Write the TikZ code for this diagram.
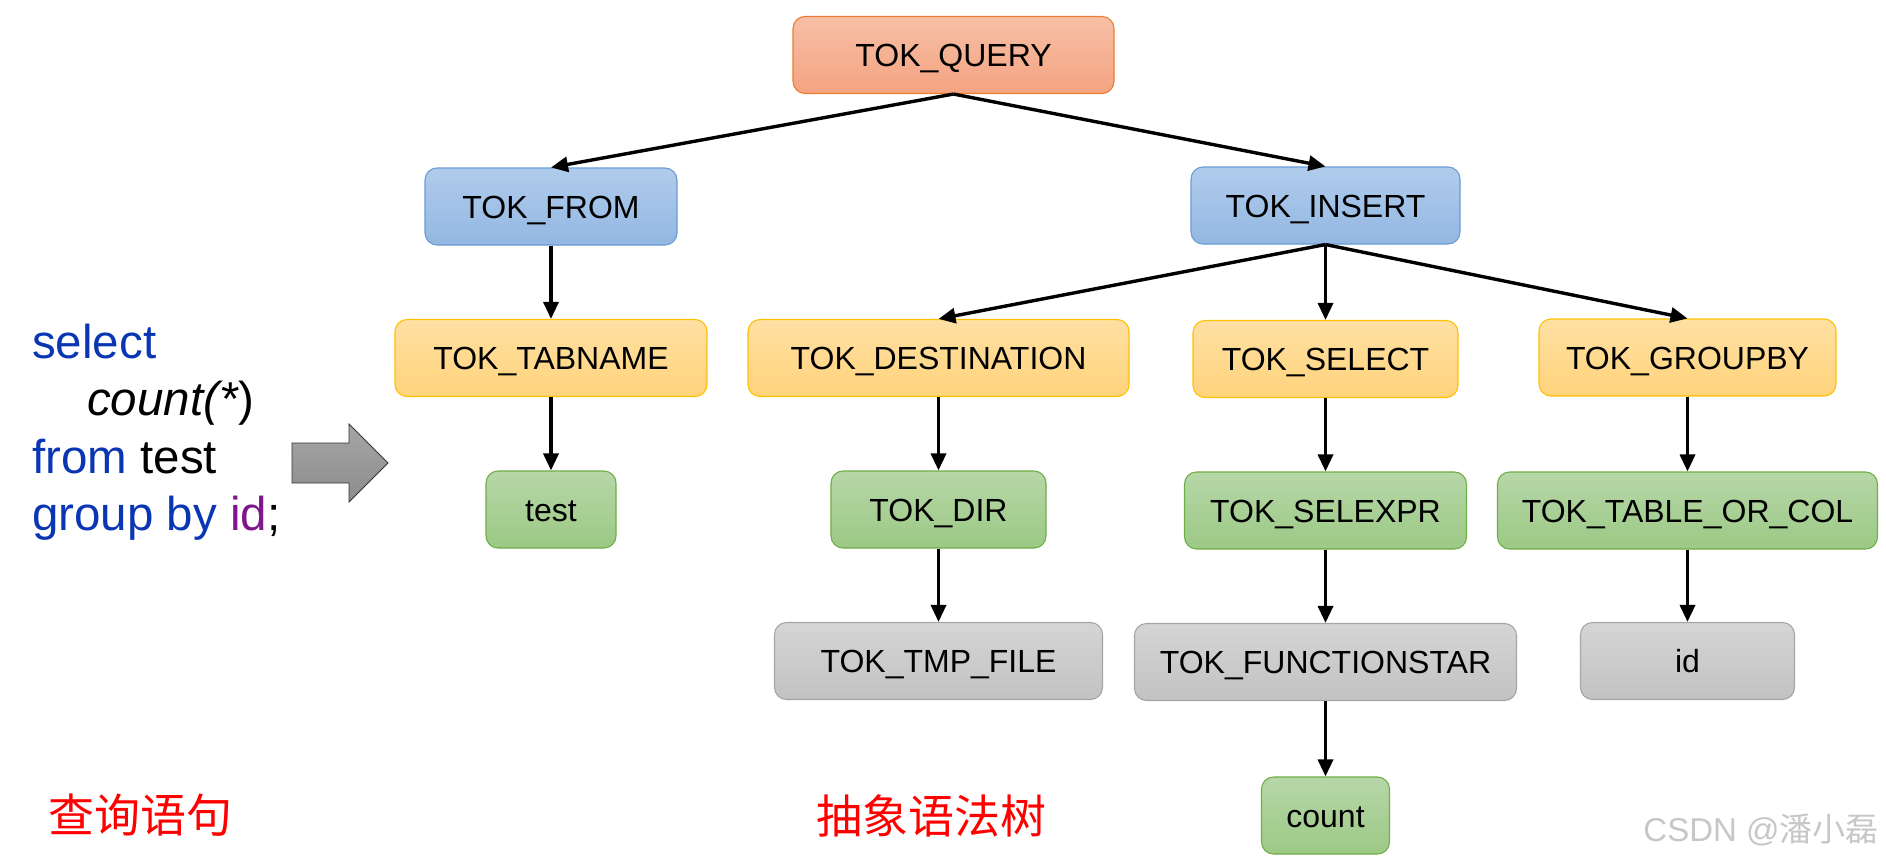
\documentclass[tikz,border=0pt]{standalone}
\usepackage{fontspec}
\setmainfont{Liberation Sans}
\newfontfamily\cjk{Noto Sans CJK SC}
\usetikzlibrary{arrows.meta}
\definecolor{qTop}{HTML}{F7BFA6}
\definecolor{qBot}{HTML}{F4A381}
\definecolor{qLine}{HTML}{ED7D31}
\definecolor{bTop}{HTML}{B0CCEC}
\definecolor{bBot}{HTML}{93B7E2}
\definecolor{bLine}{HTML}{6A9BD3}
\definecolor{yTop}{HTML}{FFE0A3}
\definecolor{yBot}{HTML}{FFD37B}
\definecolor{yLine}{HTML}{FFC000}
\definecolor{gTop}{HTML}{B6D7A8}
\definecolor{gBot}{HTML}{9CC985}
\definecolor{gLine}{HTML}{70AD47}
\definecolor{sTop}{HTML}{D5D5D5}
\definecolor{sBot}{HTML}{C2C2C2}
\definecolor{sLine}{HTML}{A5A5A5}
\definecolor{sqlblue}{HTML}{0A36B4}
\definecolor{sqlpurple}{HTML}{80168E}
\tikzset{
  tok/.style={rounded corners=12pt, minimum height=77pt, inner sep=0pt,
    text height=23pt, text depth=0pt,
    font=\fontsize{32}{38}\selectfont, line width=1.1pt, text=black},
  orangebox/.style={tok, top color=qTop, bottom color=qBot, draw=qLine},
  bluebox/.style={tok, top color=bTop, bottom color=bBot, draw=bLine},
  yellowbox/.style={tok, top color=yTop, bottom color=yBot, draw=yLine},
  greenbox/.style={tok, top color=gTop, bottom color=gBot, draw=gLine},
  graybox/.style={tok, top color=sTop, bottom color=sBot, draw=sLine},
  link/.style={-{Triangle[length=17pt,width=15pt]}, line width=3.4pt, black},
  sql/.style={anchor=base west, inner sep=0pt, font=\fontsize{47.5}{57}\selectfont},
  cnlabel/.style={inner sep=0pt, text=red, font=\cjk\fontsize{46}{50}\selectfont},
}
\begin{document}
\begin{tikzpicture}[x=1pt,y=-1pt]
\useasboundingbox (0,0) rectangle (1886,862);
% tree nodes
\node[orangebox, minimum width=321pt] (query) at (953.5,55) {TOK\_QUERY};
\node[bluebox, minimum width=252pt] (from) at (551,206.5) {TOK\_FROM};
\node[bluebox, minimum width=269pt] (insert) at (1325.5,205.5) {TOK\_INSERT};
\node[yellowbox, minimum width=312pt] (tabname) at (551,358) {TOK\_TABNAME};
\node[yellowbox, minimum width=381pt] (dest) at (938.5,358) {TOK\_DESTINATION};
\node[yellowbox, minimum width=265pt] (select) at (1325.5,359) {TOK\_SELECT};
\node[yellowbox, minimum width=297pt] (groupby) at (1687.5,357.5) {TOK\_GROUPBY};
\node[greenbox, minimum width=130pt] (test) at (551,509.5) {test};
\node[greenbox, minimum width=215pt] (dir) at (938.5,509.5) {TOK\_DIR};
\node[greenbox, minimum width=282pt] (selexpr) at (1325.5,510.5) {TOK\_SELEXPR};
\node[greenbox, minimum width=380pt] (tabcol) at (1687.5,510.5) {TOK\_TABLE\_OR\_COL};
\node[graybox, minimum width=328pt] (tmpfile) at (938.5,661) {TOK\_TMP\_FILE};
\node[graybox, minimum width=382pt] (funcstar) at (1325.5,662) {TOK\_FUNCTIONSTAR};
\node[graybox, minimum width=214pt] (id) at (1687.5,661) {id};
\node[greenbox, minimum width=128pt] (count) at (1325.5,815.5) {count};
% connectors
\draw[link] (query.south) -- (from.north);
\draw[link] (query.south) -- (insert.north);
\draw[link] (from.south) -- (tabname.north);
\draw[link] (tabname.south) -- (test.north);
\draw[link] (insert.south) -- (dest.north);
\draw[link] (insert.south) -- (select.north);
\draw[link] (insert.south) -- (groupby.north);
\draw[link] (dest.south) -- (dir.north);
\draw[link] (dir.south) -- (tmpfile.north);
\draw[link] (select.south) -- (selexpr.north);
\draw[link] (selexpr.south) -- (funcstar.north);
\draw[link] (funcstar.south) -- (count.north);
\draw[link] (groupby.south) -- (tabcol.north);
\draw[link] (tabcol.south) -- (id.north);
% SQL text
\node[sql, text=sqlblue] (l1) at (32,358) {select};
\node[sql, text=black] (l2) at (87,415) {\textit{count(*})};
\node[sql] (l3) at (32,473) {\textcolor{sqlblue}{from} test};
\node[sql] (l4) at (32,530) {\textcolor{sqlblue}{group by} \textcolor{sqlpurple}{id};};
% big gray arrow
\shade[top color=gray!70, bottom color=gray!110!black, draw=black!80, line width=0.8pt]
  (292,443) -- (349,443) -- (349,424) -- (388,463) -- (349,502) -- (349,483) -- (292,483) -- cycle;
% labels
\node[cnlabel] (lq) at (140,815) {查询语句};
\node[cnlabel] (lt) at (931,816) {抽象语法树};
\node[inner sep=0pt, text=black!22, font=\fontsize{33}{36}\selectfont] (wm) at (1761,830) {CSDN @\cjk 潘小磊};
\end{tikzpicture}
\end{document}
